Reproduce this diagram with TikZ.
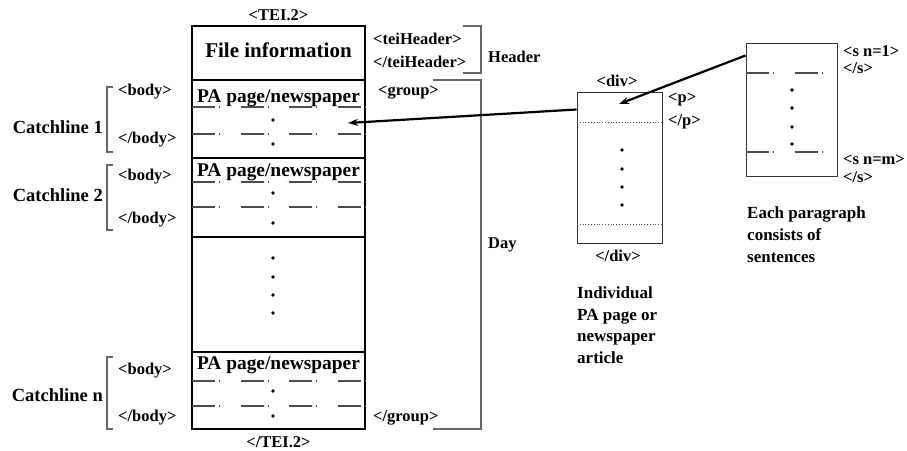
\documentclass[tikz,border=0pt]{standalone}
\usepackage{fontspec}
\setmainfont{Liberation Serif}
\usetikzlibrary{arrows.meta}

\begin{document}
\begin{tikzpicture}[x=1pt, y=-1pt, inner sep=0pt,
    tag/.style={font=\bfseries\fontsize{16.5}{19}\selectfont},
    catch/.style={anchor=east, font=\bfseries\fontsize{18.5}{21}\selectfont},
    pagetitle/.style={font=\bfseries\fontsize{19.4}{22}\selectfont},
    caption/.style={anchor=west, align=left, font=\bfseries\fontsize{17}{21.5}\selectfont},
    brace/.style={draw=black!60, line width=1.2pt},
    rule/.style={draw=black!70, line width=1.3pt, dash pattern=on 23pt off 4pt on 1pt off 20.5pt},
    pointer/.style={-{Stealth[length=10pt, width=7pt]}, line width=2.2pt}]
    \useasboundingbox (0,0) rectangle (907,450);

    % the file
    \draw[line width=2pt] (192,26) rectangle (365,429);
    \foreach \y in {80,158,237,352}
        \draw[line width=1.4pt] (192,\y) -- (365,\y);
    \foreach \y in {107,134,182,207,381,406}
        \draw[rule] (192,\y) -- (365,\y);
    \foreach \y in {120,144,193,223,258,277,295,313,391,416}
        \fill (273,\y) circle[radius=1.8pt];
    \node[tag] (tei) at (278.5,15) {<TEI.2>};
    \node[tag] (teiend) at (278.5,442) {</TEI.2>};
    \node[font=\bfseries\fontsize{21}{24}\selectfont] (fileinfo) at (278.5,50) {File information};
    \node[pagetitle] (page1) at (278.5,98) {PA page/newspaper};
    \node[pagetitle] (page2) at (278.5,172) {PA page/newspaper};
    \node[pagetitle] (pagen) at (278.5,365) {PA page/newspaper};

    % catchlines
    \node[catch] (catch1) at (103,127) {Catchline 1};
    \node[catch] (catch2) at (103,195) {Catchline 2};
    \node[catch] (catchn) at (103,395) {Catchline n};
    \draw[brace] (113,87) -- (107,87) -- (107,152) -- (113,152);
    \draw[brace] (113,165) -- (107,165) -- (107,230) -- (113,230);
    \draw[brace] (113,357) -- (107,357) -- (107,429) -- (113,429);
    \foreach \y/\n in {92/1,177/2,371/n} \node[tag, anchor=west] (body\n) at (118,\y) {<body>};
    \foreach \y/\n in {140/1,220/2,418/n} \node[tag, anchor=west] (bodyend\n) at (118,\y) {</body>};

    % header and group
    \node[tag, anchor=west] (head) at (373,39) {<teiHeader>};
    \node[tag, anchor=west] (headend) at (373,62) {</teiHeader>};
    \draw[brace] (463,26) -- (481,26) -- (481,73) -- (463,73);
    \node[tag, anchor=west] (header) at (488,57) {Header};
    \node[tag, anchor=west] (group) at (378,93) {<group>};
    \node[tag, anchor=west] (groupend) at (373,418) {</group>};
    \draw[brace] (433,80) -- (481,80) -- (481,429) -- (433,429);
    \node[tag, anchor=west] (day) at (488,245) {Day};

    % one article
    \node[draw=black!80, line width=1pt, minimum width=85pt, minimum height=151pt] (divbox) at (619.5,167.5) {};
    \draw[black!70, dotted, line width=0.8pt] (577,122) -- (662,122);
    \draw[black!70, dotted, line width=0.8pt] (577,224) -- (662,224);
    \foreach \y in {150,169,187,205}
        \fill (622,\y) circle[radius=1.8pt];
    \node[tag] (div) at (617,81) {<div>};
    \node[tag] (divend) at (618,256) {</div>};
    \node[tag, anchor=west] (para) at (668,99) {<p>};
    \node[tag, anchor=west] (paraend) at (668,122) {</p>};
    \node[caption] (divcap) at (577,325) {Individual\\PA page or\\newspaper\\article};

    % one paragraph
    \node[draw=black!80, line width=1pt, minimum width=91pt, minimum height=133pt] (sbox) at (791.5,109.5) {};
    \draw[rule] (746,73) -- (837,73);
    \draw[rule] (746,152) -- (837,152);
    \foreach \y in {90,108,127,144}
        \fill (792,\y) circle[radius=1.8pt];
    \node[tag, anchor=west] (sone) at (843,51) {<s n=1>};
    \node[tag, anchor=west] (soneend) at (843,68) {</s>};
    \node[tag, anchor=west] (sm) at (843,160) {<s n=m>};
    \node[tag, anchor=west] (smend) at (843,177) {</s>};
    \node[caption, font=\bfseries\fontsize{17}{22}\selectfont] (scap) at (747,235) {Each paragraph\\consists of\\sentences};

    \coordinate (intopage) at (348,123);
    \coordinate (intodiv) at (619,104);
    \draw[pointer] ([yshift=-18pt]divbox.north west) -- (intopage);
    \draw[pointer] ([yshift=-13pt]sbox.north west) -- (intodiv);
\end{tikzpicture}
\end{document}
